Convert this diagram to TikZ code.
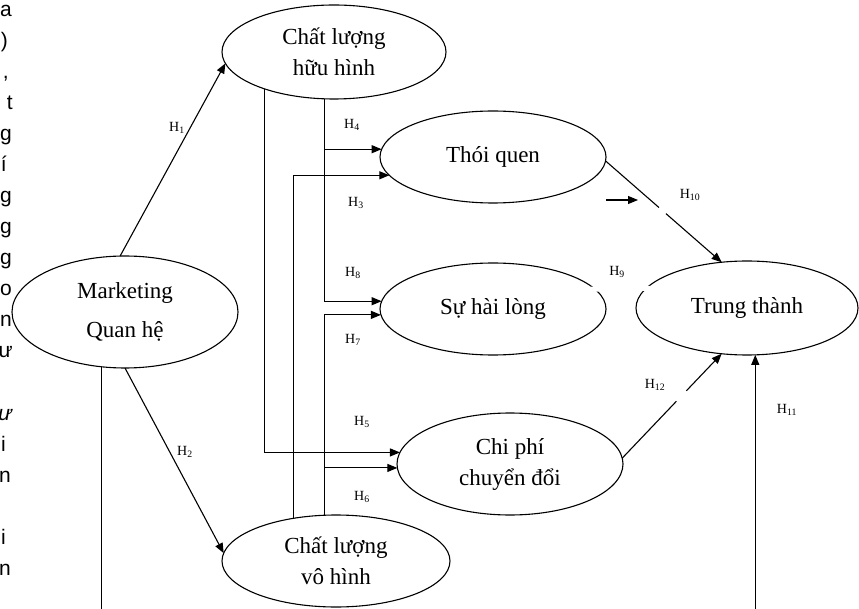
\documentclass[tikz,border=0pt]{standalone}
\usepackage{fontspec}
\setmainfont{Liberation Serif}
\newfontfamily\sidefont{Liberation Sans}
\usetikzlibrary{shapes.geometric,arrows.meta,calc}
\tikzset{
  elli/.style={draw,ellipse,line width=1.1pt,inner sep=0pt,outer sep=0pt,align=center,font=\fontsize{23}{31}\selectfont},
  link/.style={line width=1.1pt,-{Triangle[length=10pt,width=8pt]}},
  bare/.style={line width=1.1pt},
  hlab/.style={inner sep=0pt,font=\fontsize{14}{14}\selectfont},
  side/.style={inner sep=0pt,anchor=base east,font=\sidefont\fontsize{21}{21}\selectfont}
}

\begin{document}
\begin{tikzpicture}[x=1pt,y=-1pt]
\useasboundingbox (0,0) rectangle (859,609);
\foreach \k/\c/\x in {0/a/12,1/)/8,2/{,}/9,3/t/13,4/g/12,5/í/7,6/g/12,7/g/12,8/g/12,9/o/12,10/n/12,11/ư/13,13/\textit{ư}/13,14/i/6,15/n/11,17/i/6,18/n/11}
  \node[side] (s\k) at (\x,{17+31*\k}) {\c};

\node[elli,minimum width=224pt,minimum height=94pt] (hh) at (334,52) {Chất lượng\\hữu hình};
\node[elli,minimum width=226pt,minimum height=112pt] (mkt) at (125,312) {Marketing\\[8pt]Quan hệ};
\node[elli,minimum width=226pt,minimum height=92pt] (tq) at (493,157) {Thói quen};
\node[elli,minimum width=226pt,minimum height=92pt] (hl) at (493,309) {Sự hài lòng};
\node[elli,minimum width=226pt,minimum height=102pt] (cp) at (510,464) {Chi phí\\chuyển đổi};
\node[elli,minimum width=228pt,minimum height=92pt] (vh) at (336,561) {Chất lượng\\vô hình};
\node[elli,minimum width=222pt,minimum height=94pt] (tt) at (747,308) {Trung thành};
\coordinate (bot) at (0,609);
\coordinate (s1) at (606,200);
\coordinate (s2) at (638,200);

\draw[link] (mkt.95) -- (hh.186);
\draw[link] (mkt.south) -- (vh.176);
\draw[bare] (mkt.247) -- (mkt.247 |- bot);
\draw[link] (hh.208) |- (cp.174);
\draw[link] (hh.259) |- (hl.176);
\draw[link] (hh.259 |- tq.176) -- (tq.176);
\draw[link] (vh.135) |- (tq.190);
\draw[link] (vh.north -| hh.259) |- (hl.183);
\draw[link] (hh.259 |- cp.182) -- (cp.182);
\draw[bare] (tq.-2) -- ($(tq.-2)!0.46!(tt.119)$);
\draw[link] ($(tq.-2)!0.52!(tt.119)$) -- (tt.119);
\draw[link] (s1) -- (s2);
\draw[white,line width=5pt,shorten <=-4pt,shorten >=-4pt] (hl.11) -- (tt.169);
\draw[bare] (cp.3) -- ($(cp.3)!0.545!(tt.241)$);
\draw[link] ($(cp.3)!0.645!(tt.241)$) -- (tt.241);
\draw[link] (tt.-80 |- bot) -- (tt.-80);

\node[hlab] (h1) at (177,128) {H\textsubscript{1}};
\node[hlab] (h2) at (185,452) {H\textsubscript{2}};
\node[hlab] (h3) at (356,203) {H\textsubscript{3}};
\node[hlab] (h4) at (352,125) {H\textsubscript{4}};
\node[hlab] (h5) at (362,422) {H\textsubscript{5}};
\node[hlab] (h6) at (362,497) {H\textsubscript{6}};
\node[hlab] (h7) at (353,340) {H\textsubscript{7}};
\node[hlab] (h8) at (353,273) {H\textsubscript{8}};
\node[hlab] (h9) at (617,272) {H\textsubscript{9}};
\node[hlab] (h10) at (690,195) {H\textsubscript{10}};
\node[hlab] (h11) at (787,410) {H\textsubscript{11}};
\node[hlab] (h12) at (655,385) {H\textsubscript{12}};
\end{tikzpicture}
\end{document}
